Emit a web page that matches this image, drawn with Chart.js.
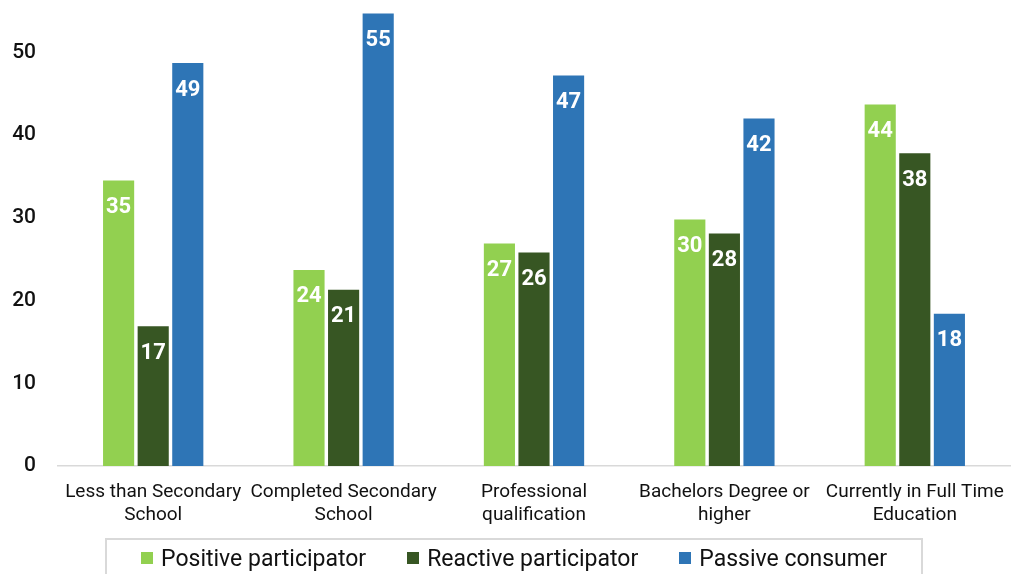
<!DOCTYPE html>
<html>
<head>
<meta charset="utf-8">
<script src="https://cdn.jsdelivr.net/npm/chart.js@4"></script>
<style>
html,body{margin:0;padding:0;background:#fff;overflow:hidden;}
#wrap{position:relative;width:1014px;height:574px;}
#legend{position:absolute;left:105px;top:538px;width:818px;height:60px;border:2px solid #d9d9d9;border-bottom:none;box-sizing:border-box;
  display:flex;justify-content:center;gap:41px;padding-top:4px;font-family:Roboto,'Liberation Sans',sans-serif;font-size:23px;color:#111;}
#legend .item{display:flex;align-items:center;height:28px;}
#legend .sw{width:12px;height:12px;margin-right:8px;}
</style>
</head>
<body>
<div id="wrap"><canvas id="c" width="1014" height="574"></canvas><div id="legend"></div></div>
<script>
const categories = [
  ["Less than Secondary", "School"],
  ["Completed Secondary", "School"],
  ["Professional", "qualification"],
  ["Bachelors Degree or", "higher"],
  ["Currently in Full Time", "Education"]
];
const seriesNames = ["Positive participator", "Reactive participator", "Passive consumer"];
const positive = [34.5, 23.7, 26.9, 29.8, 43.7];
const reactive = [16.9, 21.3, 25.8, 28.1, 37.8];
const passive = [48.7, 54.7, 47.2, 42.0, 18.4];
const positiveLabels = [35, 24, 27, 30, 44];
const reactiveLabels = [17, 21, 26, 28, 38];
const passiveLabels = [49, 55, 47, 42, 18];
const yTicks = [0, 10, 20, 30, 40, 50];

const FONT = "Roboto, 'Liberation Sans', sans-serif";

const valueLabels = {
  id: 'valueLabels',
  afterDatasetsDraw(chart) {
    const ctx = chart.ctx;
    ctx.save();
    ctx.font = "bold 22px " + FONT;
    ctx.fillStyle = '#ffffff';
    ctx.textAlign = 'center';
    ctx.textBaseline = 'middle';
    chart.data.datasets.forEach((ds, i) => {
      const meta = chart.getDatasetMeta(i);
      meta.data.forEach((bar, j) => {
        ctx.fillText(String(ds.labelsText[j]), bar.x, bar.y + 27);
      });
    });
    ctx.restore();
  }
};

const chart = new Chart(document.getElementById('c'), {
  type: 'bar',
  data: {
    labels: categories,
    datasets: [
      { label: seriesNames[0], data: positive, labelsText: positiveLabels, backgroundColor: '#92D050' },
      { label: seriesNames[1], data: reactive, labelsText: reactiveLabels, backgroundColor: '#375623' },
      { label: seriesNames[2], data: passive, labelsText: passiveLabels, backgroundColor: '#2E75B6' }
    ]
  },
  options: {
    responsive: false,
    animation: false,
    layout: { padding: { top: 11, left: 0, right: 4, bottom: 32 } },
    datasets: { bar: { categoryPercentage: 0.545, barPercentage: 0.9 } },
    plugins: {
      legend: { display: false },
      tooltip: { enabled: false }
    },
    scales: {
      x: {
        grid: { display: false, drawTicks: false },
        border: { color: '#d9d9d9', width: 1.5 },
        ticks: { font: { family: FONT, size: 19, lineHeight: 1.21 }, color: '#111', maxRotation: 0, autoSkip: false, padding: 15 },
        afterFit(scale) { scale.paddingLeft = 0; scale.paddingRight = 0; }
      },
      y: {
        min: 0, max: 55,
        afterBuildTicks(axis) { axis.ticks = yTicks.map(v => ({ value: v })); },
        afterFit(scale) { scale.width = 58; scale.paddingTop = 0; scale.paddingBottom = 0; },
        grid: { display: false, drawTicks: false },
        border: { display: false },
        ticks: { font: { family: FONT, size: 21, weight: '500' }, color: '#111', padding: 22 }
      }
    }
  },
  plugins: [valueLabels]
});

const legendEl = document.getElementById('legend');
chart.data.datasets.forEach(ds => {
  const item = document.createElement('div');
  item.className = 'item';
  const sw = document.createElement('span');
  sw.className = 'sw';
  sw.style.background = ds.backgroundColor;
  const tx = document.createElement('span');
  tx.textContent = ds.label;
  item.appendChild(sw);
  item.appendChild(tx);
  legendEl.appendChild(item);
});
</script>
</body>
</html>
